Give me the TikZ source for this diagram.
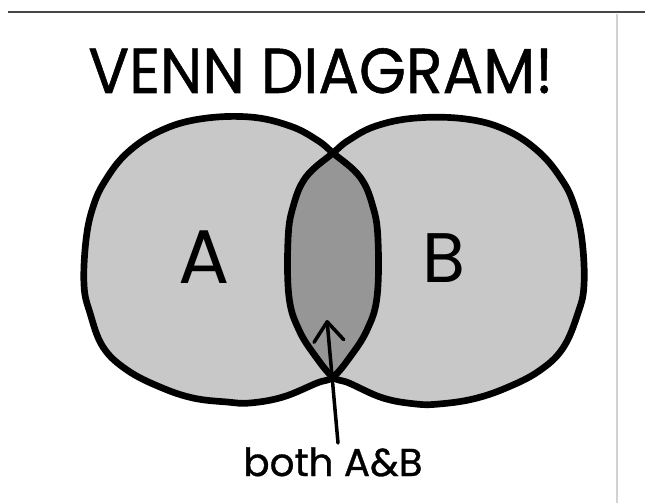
\documentclass[tikz,border=0pt]{standalone}
\usepackage{fontspec}
\setmainfont{Poppins}
\newfontfamily\handfont[FakeBold=0.8]{Poppins}
\usetikzlibrary{arrows.meta}
\definecolor{setfill}{RGB}{200,200,200}
\definecolor{lensfill}{RGB}{150,150,150}
\definecolor{rulegray}{RGB}{70,70,70}
\definecolor{edgegray}{RGB}{210,210,210}
\def\shapeA{plot[smooth cycle, tension=0.65] coordinates {(250,117) (290,126) (317,140) (333,153) (360,177) (373,207) (378,240) (377,297) (367,330) (350,357) (333,377) (317,383) (283,397) (250,403) (227,402) (193,398) (160,387) (127,370) (103,347) (90,313) (84,285) (86,240) (93,207) (105,181) (127,153) (160,131) (200,119)}}
\def\shapeB{plot[smooth cycle, tension=0.65] coordinates {(416,118) (376,126) (349,140) (333,153) (306,177) (293,207) (288,240) (289,297) (299,330) (316,357) (333,377) (349,383) (383,398) (416,404) (439,404) (473,399) (506,388) (539,371) (563,348) (578,313) (584,285) (582,240) (574,205) (562,180) (539,152) (506,130) (466,119)}}
\tikzset{
  outline/.style={draw=black, line width=3.8pt, line join=round},
  setlabel/.style={inner sep=0pt, text=black},
  titlelabel/.style={setlabel, font=\handfont},
  arrowline/.style={line width=2pt, line cap=round, -{Straight Barb[length=11pt,width=17pt,line width=2pt,round]}}
}
\begin{document}
\begin{tikzpicture}[x=0.02cm, y=-0.02cm]
\useasboundingbox (0,0) rectangle (645,503);
\fill[white] (0,0) rectangle (645,503);
% page rules
\draw[rulegray, line width=1.1pt] (8,12) -- (645,12);
\draw[edgegray, line width=0.8pt] (617,14) -- (617,503);
% title
\node[titlelabel, anchor=base west] (title) at (88,93) {\resizebox{264.5pt}{25.5pt}{VENN DIAGRAM!}};
% sets
\fill[setfill] \shapeA;
\fill[setfill] \shapeB;
\begin{scope}
  \clip \shapeA;
  \fill[lensfill] \shapeB;
\end{scope}
\draw[outline] \shapeA;
\draw[outline] \shapeB;
% labels
\node[setlabel, anchor=base] (A) at (204,283) {\resizebox{!}{30pt}{A}};
\node[setlabel, anchor=base] (B) at (444,282) {\resizebox{!}{27.8pt}{B}};
\node[titlelabel, anchor=base] (both) at (333,476) {\resizebox{102pt}{!}{both A\&B}};
% arrow
\coordinate (tail) at (338,443);
\coordinate (tip) at (327,320);
\draw[arrowline] (tail) -- (tip);
\end{tikzpicture}
\end{document}
